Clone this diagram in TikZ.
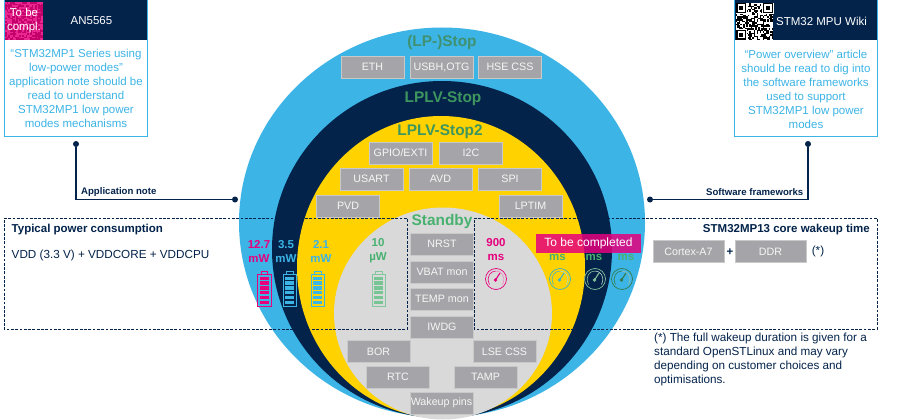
\documentclass[tikz,border=0pt]{standalone}
\usepackage{fontspec}
\setmainfont{Liberation Sans}
\definecolor{stblue}{HTML}{3CB4E6}
\definecolor{stnavy}{HTML}{03234B}
\definecolor{styellow}{HTML}{FFD200}
\definecolor{stpink}{HTML}{E6007E}
\definecolor{stgreen}{HTML}{49B170}
\definecolor{stdgreen}{HTML}{3F9170}
\definecolor{stgray}{HTML}{D9D9D9}
\definecolor{stbox}{HTML}{A5A4A8}
\tikzset{
  x=1pt,y=-1pt,
  gbox/.style={fill=stbox,draw=stgray!70!stbox,line width=.6pt,minimum width=63pt,minimum height=22pt,inner sep=0pt,text=white!90!stbox,font=\fontsize{10.7}{13}\selectfont},
  card/.style={draw=stblue,line width=1pt,fill=white,minimum width=143pt,minimum height=136pt,inner sep=0pt},
  cardhead/.style={fill=stnavy,minimum width=142pt,minimum height=40pt,inner sep=0pt},
  cardtext/.style={text=stblue,align=center,font=\fontsize{11.5}{14}\selectfont,inner sep=0pt},
  headtext/.style={text=white,font=\fontsize{11.5}{13}\selectfont,inner sep=0pt},
  mode/.style={font=\bfseries\fontsize{15.4}{17}\selectfont,inner sep=0pt},
  val/.style={font=\bfseries\fontsize{11.5}{14}\selectfont,align=center,inner sep=0pt},
  dot/.style={circle,fill=stnavy,minimum size=6pt,inner sep=0pt},
  conn/.style={draw=stnavy,line width=1.2pt},
  clabel/.style={text=stnavy,font=\bfseries\fontsize{9.6}{11}\selectfont,inner sep=0pt},
  dbox/.style={draw=stnavy,line width=.8pt,dash pattern=on 2.8pt off 1.5pt},
  plain/.style={text=stnavy,font=\fontsize{11.7}{14.2}\selectfont,inner sep=0pt},
  plainb/.style={text=stnavy,font=\bfseries\fontsize{11.5}{13}\selectfont,inner sep=0pt},
}
\newcommand{\batt}[3]{% x, top y, colour
  \draw[#3,line width=.9pt] (#1,#2+3) rectangle (#1+13.5,#2+35);
  \draw[#3,line width=.9pt] (#1+3.5,#2+3) -- (#1+3.5,#2+.5) -- (#1+10,#2+.5) -- (#1+10,#2+3);
}
\newcommand{\battbars}[3]{% x, top y, bar colour
  \foreach \k in {0,1,2,3,4,5}{
    \fill[#3] (#1+2.2,#2+5.6+\k*4.85) rectangle (#1+11.3,#2+8.8+\k*4.85);
  }
}
\newcommand{\gauge}[2]{% centre x, colour
  \draw[#2,line width=.7pt] (#1,279) circle (10.5);
  \draw[#2,line width=.6pt] (#1-6.5,284.5) .. controls (#1-10.5,276) and (#1-5,271) .. (#1,271);
  \draw[#2!50!white,line width=.6pt] (#1,271) .. controls (#1+5,271) and (#1+10.5,276) .. (#1+6.5,284.5);
  \fill[#2] (#1-.5,280) circle (1.8);
  \draw[#2,line width=1.1pt] (#1-.5,280) -- (#1+4,273);
}
\begin{document}
\begin{tikzpicture}
\useasboundingbox (0,0) rectangle (900,420);
\fill[white] (0,0) rectangle (900,420);
% rings
\fill[stblue] (442,222.5) ellipse[x radius=203,y radius=195];
\fill[stnavy] (442,249.5) ellipse[x radius=170,y radius=168.5];
\fill[styellow] (441,267) ellipse[x radius=144,y radius=151];
\fill[stgray] (443,313.5) ellipse[x radius=109,y radius=106];
% mode titles
\node[mode,text=stdgreen] (tlp) at (442,43) {(LP-)Stop};
\node[mode,text=stgreen!85!black] (tlplv) at (443,99) {LPLV-Stop};
\node[mode,text=stgreen!85!black] (tlplv2) at (440,132) {LPLV-Stop2};
\node[mode,text=stgreen] (tstby) at (442,222) {Standby};
% dashed areas
\draw[dbox] (4,218) -- (407,218) -- (407,329) -- (4,329) -- cycle;
\draw[dbox] (474,218) -- (877,218) -- (877,329) -- (474,329) -- cycle;
% peripherals
\node[gbox] (eth) at (372.5,67) {ETH};
\node[gbox] (usb) at (441.5,67) {USBH,OTG};
\node[gbox] (hse) at (510,67) {HSE CSS};
\node[gbox] (gpio) at (400.5,153) {GPIO/EXTI};
\node[gbox] (i2c) at (471,153) {I2C};
\node[gbox] (usart) at (371.5,179) {USART};
\node[gbox] (avd) at (440.5,179) {AVD};
\node[gbox] (spi) at (510,179) {SPI};
\node[gbox] (pvd) at (348,206) {PVD};
\node[gbox] (lptim) at (530.5,206) {LPTIM};
\node[gbox] (nrst) at (442,244) {NRST};
\node[gbox] (vbat) at (442,272) {VBAT mon};
\node[gbox] (temp) at (442,299) {TEMP mon};
\node[gbox] (iwdg) at (442,327) {IWDG};
\node[gbox] (bor) at (378.5,351.5) {BOR};
\node[gbox] (lse) at (504.5,351.5) {LSE CSS};
\node[gbox] (rtc) at (398,377) {RTC};
\node[gbox] (tamp) at (485.5,377) {TAMP};
\node[gbox] (wake) at (441.5,403) {Wakeup pins};
% power values
\node[val,text=stpink] (p1) at (259,251) {12.7\\mW};
\node[val,text=stblue] (p2) at (286,251) {3.5\\mW};
\node[val,text=stblue] (p3) at (321,251) {2.1\\mW};
\node[val,text=stgreen] (p4) at (378,251) {10\\µW};
% batteries
\batt{257.5}{271}{stpink}\battbars{257.5}{271}{stpink}
\batt{283}{271}{stblue}\battbars{283}{271}{stblue}
\batt{311}{271}{stblue}\battbars{311}{271}{stblue}
\batt{372}{271}{stgreen!70!white}\battbars{372}{271}{stgreen!75!white}
% wake-up values
\node[val,text=stpink] (w1) at (496,250) {900\\ms};
\node[val,text=stgreen] (w2) at (557.5,257) {ms};
\node[val,text=stgreen] (w3) at (594,257) {ms};
\node[val,text=stgreen] (w4) at (626,257) {ms};
\gauge{496}{stpink}
\gauge{560}{stblue!70!stgreen}
\gauge{595}{stgreen!60!stgray}
\gauge{622}{stgreen!70!black}
\node[fill=stpink,fill opacity=.85,text opacity=1,text=white,minimum width=105pt,minimum height=19.5pt,inner sep=0pt,font=\fontsize{12}{14}\selectfont] (tbc) at (588.5,243.5) {To be completed};
% left labels
\node[plainb,anchor=west] (tpc) at (11.5,229.5) {Typical power consumption};
\node[plain,anchor=west] (vdd) at (11.5,255) {VDD (3.3 V) + VDDCORE + VDDCPU};
\node[plainb,anchor=east] (swt) at (870,229.5) {STM32MP13 core wakeup time};
\node[gbox,minimum width=71pt] (cortex) at (688.5,251.5) {Cortex-A7};
\node[plain,font=\bfseries\fontsize{11.5}{14}\selectfont] (plus) at (730,252) {+};
\node[gbox,minimum width=71pt] (ddr) at (770.5,251.5) {DDR};
\node[plain] (star) at (818,251) {(*)};
\node[plain,anchor=north west,align=left] (note) at (654,332.5) {(*) The full wakeup duration is given for a\\standard OpenSTLinux and may vary\\depending on customer choices and\\optimisations.};
% cards
\node[card] (c1) at (75.5,68) {};
\node[cardhead] (h1) at (75.5,20.5) {};
\node[fill=stpink!85!white,minimum size=38pt,inner sep=0pt] (q1) at (24,21) {};
\pgfmathsetseed{7}
\foreach \i in {0,...,23}{\foreach \j in {0,...,23}{
  \pgfmathsetmacro{\r}{rnd}
  \ifdim\r pt<.5pt \fill[stpink!85!black] (5.3+\i*1.56,2.3+\j*1.56) rectangle +(1.56,1.56);\fi
}}
\node[text=white,align=center,inner sep=0pt,font=\fontsize{11.5}{14}\selectfont] (q1t) at (24,21) {To be\\compl.};
\node[headtext] (h1t) at (91.5,21) {AN5565};
\node[cardtext] (c1t) at (76,88) {“STM32MP1 Series using\\low-power modes”\\application note should be\\read to understand\\STM32MP1 low power\\modes mechanisms};
\node[card] (c2) at (805.5,68) {};
\node[cardhead] (h2) at (805.5,20.5) {};
\fill[white] (736,3) rectangle (773,40);
\pgfmathsetseed{11}
\foreach \i in {0,...,24}{\foreach \j in {0,...,24}{
  \pgfmathsetmacro{\r}{rnd}
  \ifdim\r pt<.5pt \fill[black] (736+\i*1.48,3+\j*1.48) rectangle +(1.48,1.48);\fi
}}
\foreach \qx/\qy in {736/3,762.6/3,736/29.6}{
  \fill[white] (\qx-.3,\qy-.3) rectangle (\qx+11,\qy+11);
  \fill[black] (\qx,\qy) rectangle (\qx+10.4,\qy+10.4);
  \fill[white] (\qx+1.5,\qy+1.5) rectangle (\qx+8.9,\qy+8.9);
  \fill[black] (\qx+3,\qy+3) rectangle (\qx+7.4,\qy+7.4);
}
\node[headtext] (h2t) at (821.5,21) {STM32 MPU Wiki};
\node[cardtext] (c2t) at (806,89) {“Power overview” article\\should be read to dig into\\the software frameworks\\used to support\\STM32MP1 low power\\modes};
% connectors
\node[dot] (d1) at (76,144) {};
\node[dot] (d2) at (235,199.5) {};
\node[dot] (d3) at (808,144) {};
\node[dot] (d4) at (650,199.5) {};
\draw[conn] (d1) |- (d2);
\draw[conn] (d3) |- (d4);
\node[clabel,anchor=west] (l1) at (81,192) {Application note};
\node[clabel,anchor=east] (l2) at (803.5,192) {Software frameworks};
\end{tikzpicture}
\end{document}
